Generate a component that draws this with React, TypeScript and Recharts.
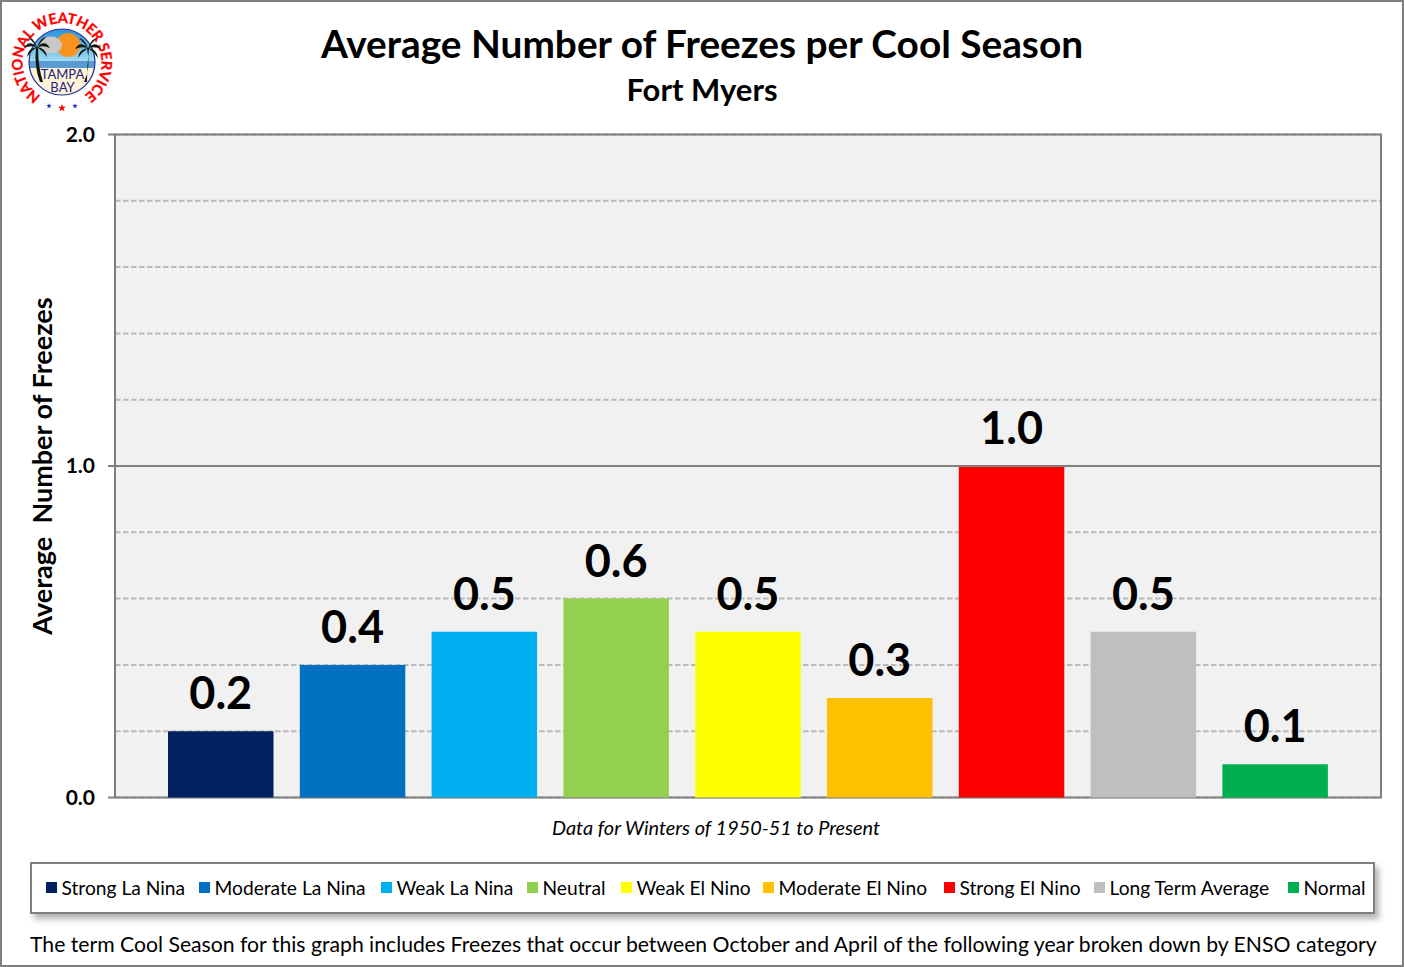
import React from "react";
import { Bar, BarChart, CartesianGrid, LabelList, Legend, ReferenceArea, ReferenceLine, XAxis, YAxis } from "recharts";

const FONT = "Lato, 'Open Sans', sans-serif";
const BORDER = "#7f7f7f";

const seriesNames = [
  "Strong La Nina",
  "Moderate La Nina",
  "Weak La Nina",
  "Neutral",
  "Weak El Nino",
  "Moderate El Nino",
  "Strong El Nino",
  "Long Term Average",
  "Normal"
];
const seriesValues = [0.2, 0.4, 0.5, 0.6, 0.5, 0.3, 1.0, 0.5, 0.1];
const seriesColors = ["#002060", "#0070c0", "#00b0f0", "#92d050", "#ffff00", "#ffc000", "#ff0000", "#bfbfbf", "#00b050"];
const yTicks = [0, 0.2, 0.4, 0.6, 0.8, 1, 1.2, 1.4, 1.6, 1.8, 2];
const labelledTicks = [0, 1, 2];
// legend slots, the fallback font is not as wide as the original in places
const legendSlots = [153, 182, 146, 94, 142, 181, 150, 194, 80];

// one category with nine series, same as the original sheet
const row: Record<string, string | number> = { name: "Fort Myers" };
seriesNames.forEach((n, i) => {
  row[n] = seriesValues[i];
});
const data = [row];

function YTick({ y, payload }: any) {
  if (!labelledTicks.includes(payload.value)) return null;
  return (
    <g>
      <line x1={108} x2={115} y1={y} y2={y} stroke={BORDER} strokeWidth={2} />
      <text x={95} y={y + 7} textAnchor="end" fontFamily={FONT} fontWeight={700} fontSize={21} fill="#000">
        {payload.value.toFixed(1)}
      </text>
    </g>
  );
}

function LegendBox({ payload }: any) {
  return (
    <div
      style={{
        boxSizing: "border-box",
        width: 1345,
        height: 52,
        background: "#fff",
        border: `2.5px solid ${BORDER}`,
        boxShadow: "4px 5px 6px rgba(0,0,0,0.3)",
        display: "flex",
        alignItems: "center",
        padding: "0 0 2px 13.5px",
        fontFamily: FONT,
        fontSize: 19.2,
        color: "#000"
      }}
    >
      {(payload || []).map((p: any, i: number) => (
        <span key={p.value} style={{ display: "flex", alignItems: "center", whiteSpace: "nowrap", width: legendSlots[i] }}>
          <span style={{ width: 11, height: 11, background: p.color, marginRight: 5 }} />
          {p.value}
        </span>
      ))}
    </div>
  );
}

function Star({ cx, cy, r, fill }: { cx: number; cy: number; r: number; fill: string }) {
  const pts = [0, 1, 2, 3, 4, 5, 6, 7, 8, 9]
    .map((k) => {
      const a = (Math.PI / 5) * k - Math.PI / 2;
      const d = k % 2 === 0 ? r : r * 0.42;
      return `${cx + d * Math.cos(a)},${cy + d * Math.sin(a)}`;
    })
    .join(" ");
  return <polygon points={pts} fill={fill} />;
}

function Palm({ x, y, footX, flip }: { x: number; y: number; footX: number; flip: number }) {
  return (
    <g fill="#10180c">
      <path d={`M${x - 1} ${y} Q${x - 3 * flip} ${y + 20} ${footX - 1} 82 L${footX + 2} 82 Q${x + 1 * flip} ${y + 20} ${x + 1} ${y} Z`} />
      <path d={`M${x} ${y} Q${x - 8} ${y - 8} ${x - 13} ${y + 1} Q${x - 7} ${y - 2} ${x} ${y} Z`} />
      <path d={`M${x} ${y} Q${x + 8} ${y - 8} ${x + 13} ${y + 1} Q${x + 7} ${y - 2} ${x} ${y} Z`} />
      <path d={`M${x} ${y} Q${x - 4} ${y - 10} ${x - 9} ${y - 10} Q${x - 4} ${y - 5} ${x} ${y} Z`} />
      <path d={`M${x} ${y} Q${x + 4} ${y - 10} ${x + 9} ${y - 10} Q${x + 4} ${y - 5} ${x} ${y} Z`} />
      <path d={`M${x} ${y} Q${x - 9} ${y + 1} ${x - 10} ${y + 10} Q${x - 6} ${y + 4} ${x} ${y} Z`} />
      <path d={`M${x} ${y} Q${x + 9} ${y + 1} ${x + 10} ${y + 10} Q${x + 6} ${y + 4} ${x} ${y} Z`} />
    </g>
  );
}

function Logo() {
  return (
    <svg width={124} height={124} viewBox="0 0 124 124" style={{ position: "absolute", left: 0, top: 0 }}>
      <defs>
        <path id="ring" d="M 41 96 A 39.5 39.5 0 1 1 83 96" fill="none" />
        <linearGradient id="sky" x1="0" y1="0" x2="0" y2="1">
          <stop offset="0" stopColor="#1b86d6" />
          <stop offset="1" stopColor="#a5def2" />
        </linearGradient>
        <clipPath id="disc">
          <circle cx="62" cy="62" r="33" />
        </clipPath>
      </defs>
      <text fontFamily="'Liberation Sans Narrow', Lato, sans-serif" fontWeight={700} fontSize={14.5} fill="#ff0000" stroke="#ff0000" strokeWidth={0.3}>
        <textPath href="#ring" textLength={202} lengthAdjust="spacing">
          NATIONAL WEATHER SERVICE
        </textPath>
      </text>
      <g clipPath="url(#disc)">
        <rect x="25" y="25" width="74" height="37" fill="url(#sky)" />
        <circle cx="68" cy="45" r="12" fill="#f7931e" />
        <ellipse cx="51" cy="45" rx="11" ry="8.5" fill="#c8c8c8" />
        <rect x="25" y="61" width="74" height="7" fill="#5b9bd5" />
        <rect x="25" y="68" width="74" height="30" fill="#fdf2d8" />
      </g>
      <circle cx="62" cy="62" r="33" fill="none" stroke="#1f2f9c" strokeWidth={1.2} />
      <Palm x={37} y={47} footX={41} flip={1} />
      <Palm x={88} y={48} footX={85} flip={-1} />
      <text x="62.5" y="79" textAnchor="middle" fontFamily={FONT} fontSize={13} fill="#1a237e">TAMPA</text>
      <text x="62.5" y="92" textAnchor="middle" fontFamily={FONT} fontSize={13} fill="#1a237e">BAY</text>
      <Star cx={49} cy={106} r={2.8} fill="#1f2fbc" />
      <Star cx={62} cy={108} r={4} fill="#ff0000" />
      <Star cx={75} cy={106} r={2.8} fill="#1f2fbc" />
    </svg>
  );
}

const textBase: React.CSSProperties = { position: "absolute", fontFamily: FONT, color: "#000", whiteSpace: "nowrap" };

export default function App() {
  return (
    <div style={{ position: "absolute", left: 0, top: 0, width: 1404, height: 967, background: "#fff", overflow: "hidden" }}>
      <BarChart
        width={1404}
        height={967}
        data={data}
        margin={{ top: 134.5, right: 23, bottom: 117.5, left: 55 }}
        barSize={105.5}
        barGap={26.3}
      >
        <CartesianGrid vertical={false} stroke="#bababa" strokeWidth={2} strokeDasharray="5.5 2.5" fill="#f1f1f1" />
        <XAxis dataKey="name" tick={false} axisLine={false} tickLine={false} height={0} />
        <YAxis domain={[0, 2]} ticks={yTicks} interval={0} width={60} axisLine={false} tickLine={false} tick={<YTick />} />
        <ReferenceLine y={1} stroke={BORDER} strokeWidth={2} />
        <ReferenceArea y1={0} y2={2} fill="none" stroke={BORDER} strokeWidth={2} />
        <Legend
          verticalAlign="bottom"
          itemSorter={null}
          wrapperStyle={{ left: 30, top: 862, bottom: "auto", width: 1345, height: 52 }}
          content={<LegendBox />}
        />
        {seriesNames.map((n, i) => (
          <Bar key={n} dataKey={n} fill={seriesColors[i]} isAnimationActive={false}>
            <LabelList
              dataKey={n}
              position="top"
              offset={22}
              formatter={(v: number) => v.toFixed(1)}
              style={{ fontFamily: FONT, fontWeight: 700, fontSize: 45, fill: "#000" }}
            />
          </Bar>
        ))}
      </BarChart>
      <Logo />
      <div style={{ ...textBase, left: 0, width: 1404, top: 19, textAlign: "center", fontSize: 38.8, fontWeight: 700, lineHeight: "48px" }}>
        Average Number of Freezes per Cool Season
      </div>
      <div style={{ ...textBase, left: 0, width: 1404, top: 71, textAlign: "center", fontSize: 31, fontWeight: 700, lineHeight: "36px" }}>
        Fort Myers
      </div>
      <div
        style={{
          ...textBase,
          left: 41,
          top: 466,
          transform: "translate(-50%, -50%) rotate(-90deg)",
          fontSize: 27,
          fontWeight: 700,
          whiteSpace: "pre"
        }}
      >
        {"Average  Number of Freezes"}
      </div>
      <div style={{ ...textBase, left: 552, top: 815, fontSize: 19.9, fontStyle: "italic" }}>
        Data for Winters of 1950-51 to Present
      </div>
      <div style={{ ...textBase, left: 30, top: 931, fontSize: 21.2 }}>
        The term Cool Season for this graph includes Freezes that occur between October and April of the following year broken down by ENSO category
      </div>
      <div style={{ position: "absolute", inset: 0, boxSizing: "border-box", border: `2px solid ${BORDER}`, pointerEvents: "none" }} />
    </div>
  );
}
